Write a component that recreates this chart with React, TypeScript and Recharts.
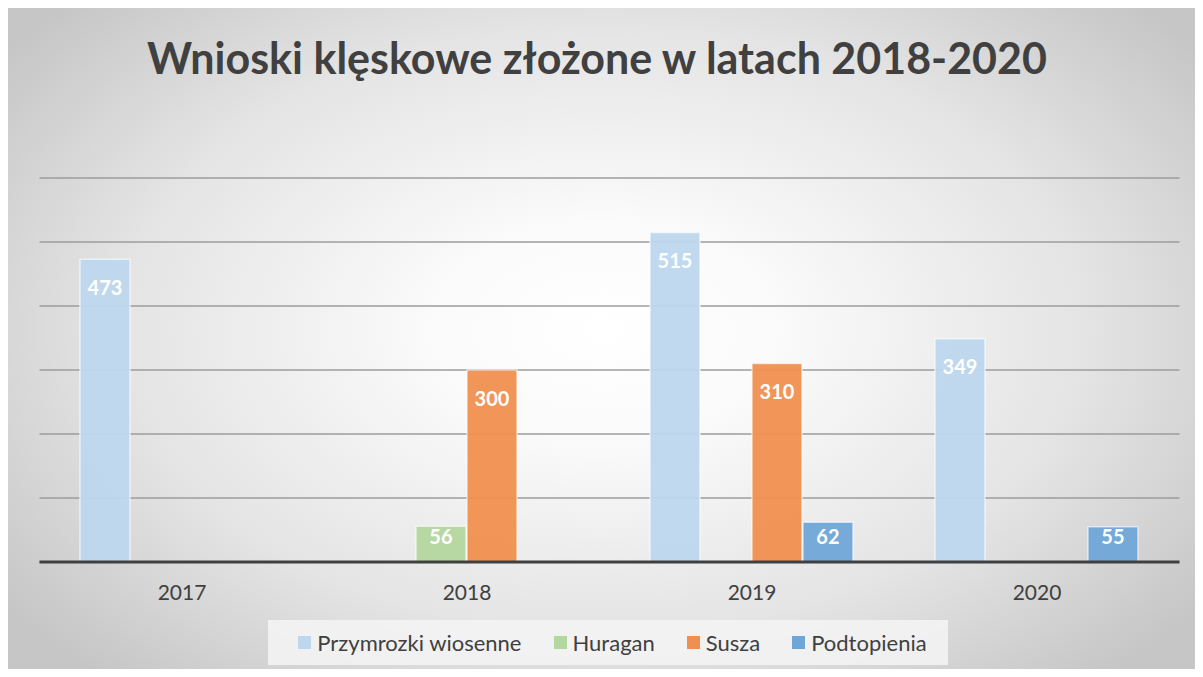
import React from 'react';
import {
  BarChart,
  Bar,
  XAxis,
  YAxis,
  CartesianGrid,
  Legend,
  LabelList,
} from 'recharts';

const years = ['2017', '2018', '2019', '2020'];
const przymrozki = [473, 0, 515, 349];
const huragan = [0, 56, 0, 0];
const susza = [0, 300, 310, 0];
const podtopienia = [0, 0, 62, 55];
const yTicks = [0, 100, 200, 300, 400, 500, 600];

const series = [
  { key: 'przymrozki', name: 'Przymrozki wiosenne', color: '#bdd7ee' },
  { key: 'huragan', name: 'Huragan', color: '#b4d79f' },
  { key: 'susza', name: 'Susza', color: '#f08f4f' },
  { key: 'podtopienia', name: 'Podtopienia', color: '#6fa6d8' },
];

const data = years.map((year, i) => ({
  year,
  przymrozki: przymrozki[i],
  huragan: huragan[i],
  susza: susza[i],
  podtopienia: podtopienia[i],
}));

const FONT = 'Lato, "Open Sans", sans-serif';

// white bold value near the top of the bar, pushed up on short bars
function ValueLabel(props: any) {
  const { x, y, width, height, value } = props;
  if (!value) return null;
  const off = Math.max(0, Math.min(20, height - 34));
  return (
    <text
      x={x + width / 2}
      y={y + off}
      dy="0.78em"
      textAnchor="middle"
      fill="#ffffff"
      fontFamily={FONT}
      fontWeight={700}
      fontSize={20}
    >
      {value}
    </text>
  );
}

function LegendBox() {
  return (
    <div
      style={{
        width: 680,
        height: 45,
        boxSizing: 'border-box',
        paddingLeft: 9,
        background: 'rgba(245,245,245,0.85)',
        display: 'flex',
        alignItems: 'center',
        justifyContent: 'center',
        gap: 32,
        fontFamily: FONT,
        fontSize: 22,
        color: '#404040',
      }}
    >
      {series.map((s) => (
        <div key={s.key} style={{ display: 'flex', alignItems: 'center', gap: 6 }}>
          <div style={{ width: 13, height: 13, background: s.color }} />
          <span>{s.name}</span>
        </div>
      ))}
    </div>
  );
}

export default function App() {
  return (
    <div style={{ position: 'relative', width: 1203, height: 677, margin: -8, background: '#ffffff', overflow: 'hidden' }}>
      <div
        style={{
          position: 'absolute',
          left: 4,
          top: 8,
          right: 0,
          bottom: 0,
          background: 'radial-gradient(ellipse 62% 70% at 50% 48%, #ffffff 0%, #fbfbfb 22%, #e4e4e4 65%, #c6c6c6 100%)',
          boxShadow: '0 0 3px rgba(0,0,0,0.25)',
        }}
      />
      <div
        style={{
          position: 'absolute',
          top: 37,
          left: 0,
          width: 1194,
          textAlign: 'center',
          fontFamily: FONT,
          fontWeight: 700,
          fontSize: 43,
          lineHeight: '42px',
          color: '#404040',
        }}
      >
        Wnioski klęskowe złożone w latach 2018-2020
      </div>
      <div style={{ position: 'absolute', top: 0, left: 0 }}>
        <BarChart
          width={1203}
          height={677}
          data={data}
          margin={{ top: 178, right: 23.5, left: 39.5, bottom: 75 }}
          barCategoryGap="14.2%"
          barGap={1}
        >
          <CartesianGrid vertical={false} stroke="#9d9d9d" strokeWidth={1.5} />
          <YAxis hide domain={[0, 600]} ticks={yTicks} />
          <XAxis
            dataKey="year"
            height={40}
            axisLine={{ stroke: '#404040', strokeWidth: 3 }}
            tickLine={false}
            tickMargin={17}
            tick={{ fill: '#404040', fontSize: 21, fontFamily: FONT }}
          />
          <Legend
            verticalAlign="middle"
            align="center"
            content={() => <LegendBox />}
            wrapperStyle={{ top: 620, left: 268, width: 680, height: 45 }}
          />
          {series.map((s) => (
            <Bar
              key={s.key}
              dataKey={s.key}
              name={s.name}
              fill={s.color}
              fillOpacity={0.95}
              stroke="rgba(255,255,255,0.6)"
              strokeWidth={1.5}
              isAnimationActive={false}
            >
              <LabelList dataKey={s.key} content={ValueLabel} />
            </Bar>
          ))}
        </BarChart>
      </div>
    </div>
  );
}
